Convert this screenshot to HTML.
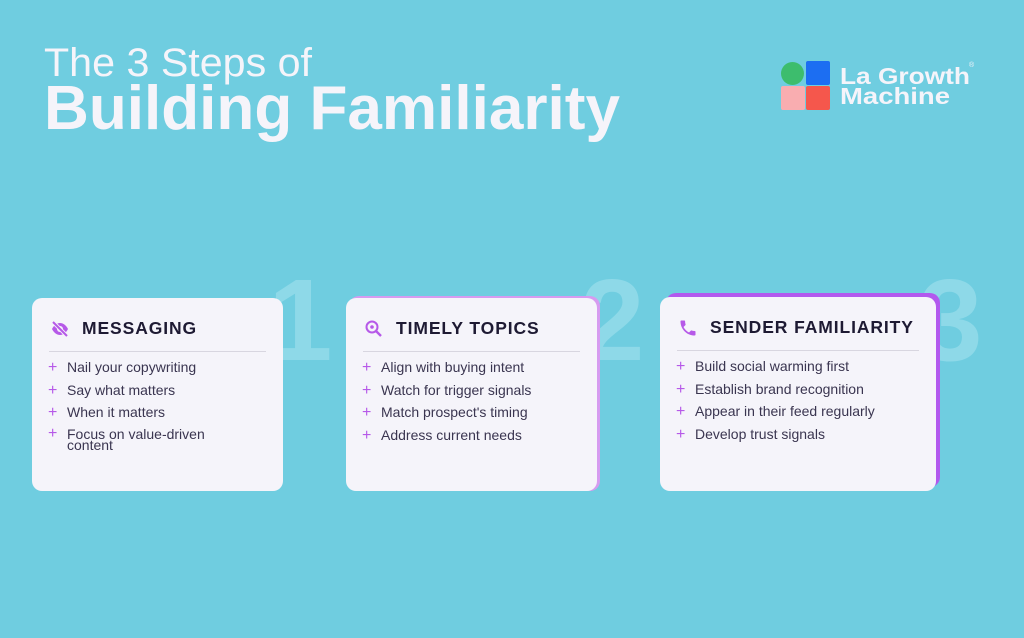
<!DOCTYPE html>
<html><head><meta charset="utf-8"><style>
body{margin:0;width:1024px;height:638px;background:#6fcde0;overflow:hidden;position:relative;font-family:"Liberation Sans",sans-serif}
.num{position:absolute;font-weight:bold;font-size:116px;color:#8ed9e8;line-height:1}
.card{position:absolute;background:#f5f4fa;border-radius:10px}
.h{position:absolute;left:50px;top:20px;font-weight:bold;font-size:17.5px;color:#1e1a33;letter-spacing:0.9px}
.ic{position:absolute;left:18px;top:21px}
.line{position:absolute;left:17px;right:17px;top:53px;height:1px;background:#d8d6e0}
ul{position:absolute;left:16px;top:62px;margin:0;padding:0;list-style:none}
li{position:relative;padding-left:19px;font-size:14px;color:#3a3550;line-height:15px;margin-bottom:7.7px}
li:before{content:"+";position:absolute;left:0;top:0;color:#b659e8;font-size:16px}
</style></head><body>
<svg width="1024" height="150" style="position:absolute;left:0;top:0">
<text x="44" y="76" font-family="Liberation Sans" font-size="40" fill="#f5f4fa" textLength="268" lengthAdjust="spacingAndGlyphs">The 3 Steps of</text>
<text x="44" y="129" font-family="Liberation Sans" font-weight="bold" font-size="62" fill="#f5f4fa" textLength="576" lengthAdjust="spacingAndGlyphs">Building Familiarity</text>
<rect x="781" y="62" width="23" height="23" rx="11.5" fill="#3dbd6d"/>
<rect x="806" y="61" width="24" height="24" rx="2" fill="#1c6ef2"/>
<rect x="781" y="86" width="24" height="24" rx="2" fill="#f9adb0"/>
<rect x="806" y="86" width="24" height="24" rx="2" fill="#f5574c"/>
<text x="840" y="84" font-family="Liberation Sans" font-weight="bold" font-size="23" fill="#f5f4fa" textLength="130" lengthAdjust="spacingAndGlyphs">La Growth</text>
<text x="840" y="104" font-family="Liberation Sans" font-weight="bold" font-size="23" fill="#f5f4fa" textLength="110" lengthAdjust="spacingAndGlyphs">Machine</text>
<text x="969" y="67" font-family="Liberation Sans" font-size="7" fill="#f5f4fa">®</text>
</svg>
<div class="num" style="left:268px;top:262px">1</div>
<div class="num" style="left:580px;top:262px">2</div>
<div class="num" style="left:918px;top:262px">3</div>

<div class="card" style="left:32px;top:298px;width:251px;height:193px">
<svg class="ic" width="20" height="20" viewBox="0 0 20 20"><path d="M2 10c2-4 5-6 8-6s6 2 8 6c-2 4-5 6-8 6s-6-2-8-6z" fill="#b659e8"/><circle cx="10" cy="10" r="3" fill="#f5f4fa"/><line x1="3" y1="3" x2="17" y2="17" stroke="#f5f4fa" stroke-width="4"/><line x1="3" y1="3" x2="17" y2="17" stroke="#b659e8" stroke-width="2"/></svg>
<div class="h">MESSAGING</div><div class="line"></div>
<ul><li>Nail your copywriting</li><li>Say what matters</li><li>When it matters</li><li style="line-height:11px;padding-top:1px">Focus on value-driven<br>content</li></ul>
</div>

<div class="card" style="left:349px;top:296px;width:251px;height:195px;background:#d69bf0"></div>
<div class="card" style="left:346px;top:298px;width:251px;height:193px">
<svg class="ic" width="20" height="20" viewBox="0 0 20 20"><circle cx="8" cy="8" r="5.5" fill="none" stroke="#b659e8" stroke-width="2"/><circle cx="8" cy="8" r="1.8" fill="#b659e8"/><line x1="12" y1="12" x2="17" y2="17" stroke="#b659e8" stroke-width="2.4"/></svg>
<div class="h">TIMELY TOPICS</div><div class="line"></div>
<ul><li>Align with buying intent</li><li>Watch for trigger signals</li><li>Match prospect's timing</li><li>Address current needs</li></ul>
</div>

<div class="card" style="left:666px;top:293px;width:274px;height:194px;background:#b259ee"></div>
<div class="card" style="left:660px;top:297px;width:276px;height:194px">
<svg class="ic" width="20" height="20" viewBox="0 0 24 24"><path d="M6.6 10.8c1.4 2.8 3.8 5.1 6.6 6.6l2.2-2.2c.3-.3.7-.4 1-.2 1.1.4 2.3.6 3.6.6.6 0 1 .4 1 1V20c0 .6-.4 1-1 1C10.6 21 3 13.4 3 4c0-.6.4-1 1-1h3.5c.6 0 1 .4 1 1 0 1.3.2 2.5.6 3.6.1.3 0 .7-.2 1z" fill="#b659e8"/></svg>
<div class="h">SENDER FAMILIARITY</div><div class="line"></div>
<ul><li>Build social warming first</li><li>Establish brand recognition</li><li>Appear in their feed regularly</li><li>Develop trust signals</li></ul>
</div>
</body></html>
